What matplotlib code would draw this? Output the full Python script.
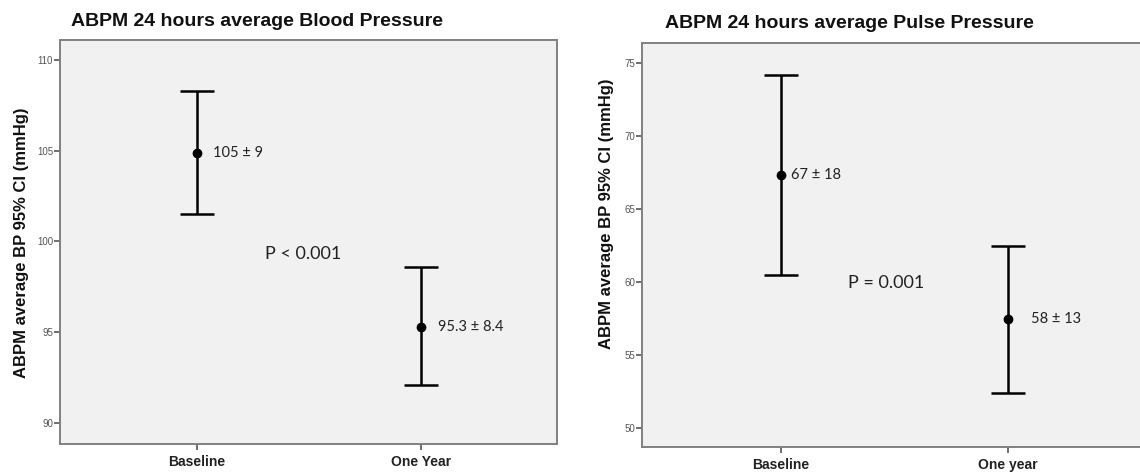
import matplotlib
matplotlib.use("Agg")
import matplotlib.pyplot as plt

# Categories and values
groups_bp = ["Baseline", "One Year"]
bp_mean = [104.9, 95.3]
bp_ci_low = [101.5, 92.1]
bp_ci_high = [108.3, 98.6]
bp_labels = ["105 \u00b1 9", "95.3 \u00b1 8.4"]
bp_p_text = "P < 0.001"

groups_pp = ["Baseline", "One year"]
pp_mean = [67.3, 57.5]
pp_ci_low = [60.5, 52.4]
pp_ci_high = [74.2, 62.5]
pp_labels = ["67 \u00b1 18", "58 \u00b1 13"]
pp_p_text = "P = 0.001"

bp_yticks = [90, 95, 100, 105, 110]
pp_yticks = [50, 55, 60, 65, 70, 75]

W, H = 1140, 472
fig = plt.figure(figsize=(W / 100, H / 100), dpi=100)
fig.patch.set_facecolor("white")

BOLD = ["Liberation Sans", "DejaVu Sans"]
NOTE = ["Lato", "DejaVu Sans"]


def panel(rect, groups, mean, lo, hi, labels, label_offsets, ylim, yticks,
          ptext, ppos):
    ax = fig.add_axes(rect)
    ax.set_facecolor("#f1f1f1")
    x = list(range(len(groups)))
    yerr = [[m - l for m, l in zip(mean, lo)], [h - m for m, h in zip(mean, hi)]]
    ax.errorbar(x, mean, yerr=yerr, fmt="o", color="black", ecolor="black",
                elinewidth=1.8, capsize=12, capthick=1.8, markersize=6,
                zorder=3)
    for xi, m, lab, off in zip(x, mean, labels, label_offsets):
        ax.annotate(lab, (xi, m), xytext=(off, 0), textcoords="offset pixels",
                    ha="left", va="center", fontsize=10.5, family=NOTE,
                    color="#222222")
    ax.text(ppos[0], ppos[1], ptext, ha="left", va="center", fontsize=13,
            family=NOTE, color="#222222")
    ax.set_xlim(-0.612, 1.607)
    ax.set_ylim(*ylim)
    ax.set_xticks(x)
    ax.set_xticklabels(groups, fontsize=10, fontweight="bold", family=BOLD,
                       color="#222222")
    ax.set_yticks(yticks)
    ax.set_yticklabels([str(t) for t in yticks], fontsize=7, family=BOLD,
                       color="#555555")
    ax.tick_params(axis="y", length=4, width=1.2, color="#555555", pad=1)
    ax.tick_params(axis="x", length=4, width=1.2, color="#555555", pad=4)
    for s in ax.spines.values():
        s.set_color("#808080")
        s.set_linewidth(1.4)
    return ax


panel([60 / W, 1 - 444 / H, 497 / W, 404 / H], groups_bp, bp_mean, bp_ci_low,
      bp_ci_high, bp_labels, [16, 17], (88.84, 111.10), bp_yticks,
      bp_p_text, (0.303, 99.3))

panel([642 / W, 1 - 447 / H, 504 / W, 404 / H], groups_pp, pp_mean, pp_ci_low,
      pp_ci_high, pp_labels, [10, 23], (48.70, 76.37), pp_yticks,
      pp_p_text, (0.295, 59.9))

fig.text(257 / W, 1 - 22 / H, "ABPM 24 hours average Blood Pressure",
         ha="center", va="center", fontsize=14, fontweight="bold", family=BOLD,
         color="#111111")
fig.text(849 / W, 1 - 23 / H, "ABPM 24 hours average Pulse Pressure",
         ha="center", va="center", fontsize=14, fontweight="bold", family=BOLD,
         color="#111111")
fig.text(22 / W, 1 - 243 / H, "ABPM average BP 95% CI (mmHg)", rotation=90,
         ha="center", va="center", fontsize=12, fontweight="bold", family=BOLD,
         color="#111111")
fig.text(606 / W, 1 - 214 / H, "ABPM average BP 95% CI (mmHg)", rotation=90,
         ha="center", va="center", fontsize=12, fontweight="bold", family=BOLD,
         color="#111111")

fig.savefig("out.png", dpi=100)
